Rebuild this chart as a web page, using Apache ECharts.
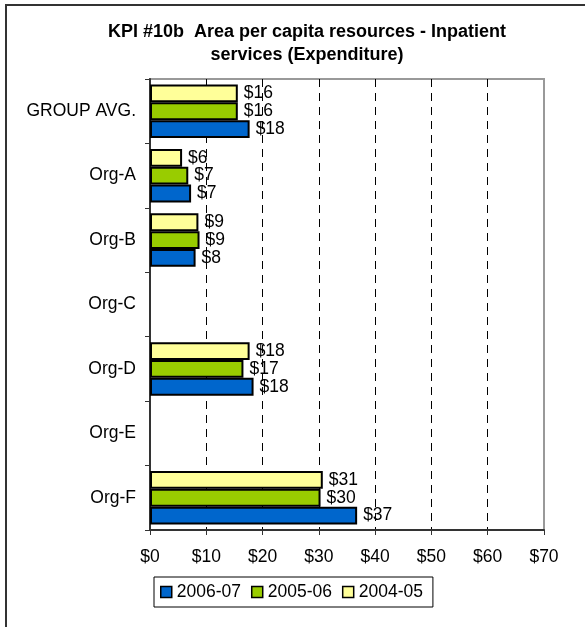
<!DOCTYPE html>
<html>
<head>
<meta charset="utf-8">
<script src="https://cdn.jsdelivr.net/npm/echarts@6/dist/echarts.min.js"></script>
<style>
  html, body { margin: 0; padding: 0; background: #fff; }
  #chart { width: 585px; height: 627px; }
</style>
</head>
<body>
<div id="chart"></div>
<script>
// data
var categories = ['GROUP AVG.', 'Org-A', 'Org-B', 'Org-C', 'Org-D', 'Org-E', 'Org-F'];
var seriesNames = ['2006-07', '2005-06', '2004-05'];
var values0607 = [17.7, 7.3, 8.1, null, 18.4, null, 36.8];
var values0506 = [15.6, 6.8, 8.8, null, 16.6, null, 30.3];
var values0405 = [15.6, 5.7, 8.6, null, 17.7, null, 30.7];
var xTicks = [0, 10, 20, 30, 40, 50, 60, 70];

var font = 'Arial, "Liberation Sans", sans-serif';
var colors = {'2006-07': '#0066cc', '2005-06': '#99cc00', '2004-05': '#ffff99'};

function makeSeries(name, data) {
    return {
        name: name,
        type: 'bar',
        data: data,
        barGap: '0%',
        barCategoryGap: '17%',
        itemStyle: { color: colors[name], borderColor: '#000', borderWidth: 2 },
        label: {
            show: true,
            position: 'right',
            distance: 6,
            color: '#000',
            fontFamily: font,
            fontSize: 17.5,
            formatter: function (p) { return '$' + Math.round(p.value); }
        }
    };
}

var chart = echarts.init(document.getElementById('chart'));

var option = {
    animation: false,
    backgroundColor: '#fff',
    title: {
        text: 'KPI #10b  Area per capita resources - Inpatient\nservices (Expenditure)',
        left: 302,
        top: 16,
        textAlign: 'center',
        textStyle: { fontFamily: font, fontSize: 18, fontWeight: 'bold', color: '#000', lineHeight: 23 }
    },
    legend: {
        data: seriesNames,
        left: 154,
        top: 577,
        height: 30,
        padding: [6, 10, 6, 6],
        borderColor: '#000',
        borderWidth: 1,
        itemWidth: 11,
        itemHeight: 11,
        itemGap: 10,
        icon: 'rect',
        itemStyle: { borderColor: '#000', borderWidth: 1.5 },
        textStyle: { fontFamily: font, fontSize: 17.5, color: '#000' }
    },
    grid: {
        left: 150,
        right: 41,
        top: 79,
        bottom: 97,
        show: true,
        borderColor: '#999',
        borderWidth: 2
    },
    xAxis: {
        type: 'value',
        min: xTicks[0],
        max: xTicks[xTicks.length - 1],
        interval: 10,
        axisLine: { show: true, lineStyle: { color: '#333', width: 2 } },
        axisTick: { show: true, length: 5, lineStyle: { color: '#333' } },
        axisLabel: {
            margin: 18,
            fontFamily: font, fontSize: 17.5, color: '#000',
            formatter: function (v) { return '$' + v; }
        },
        splitLine: {
            show: true,
            showMinLine: false,
            showMaxLine: false,
            lineStyle: { color: '#000', type: [8, 6], width: 1 }
        }
    },
    yAxis: {
        type: 'category',
        data: categories,
        inverse: true,
        axisLine: { show: true, lineStyle: { color: '#333', width: 2 } },
        axisTick: { show: true, length: 5, alignWithLabel: false, lineStyle: { color: '#333' } },
        axisLabel: { margin: 14, fontFamily: font, fontSize: 17.5, color: '#000' },
        splitLine: { show: false }
    },
    // axis is inverted, so the first series sits at the top of each group
    series: [
        makeSeries('2004-05', values0405),
        makeSeries('2005-06', values0506),
        makeSeries('2006-07', values0607)
    ],
    graphic: [
        {
            type: 'rect',
            shape: { x: 6, y: 5, width: 800, height: 800 },
            style: { fill: 'none', stroke: '#333', lineWidth: 2 },
            silent: true
        }
    ]
};

chart.setOption(option);
</script>
</body>
</html>
